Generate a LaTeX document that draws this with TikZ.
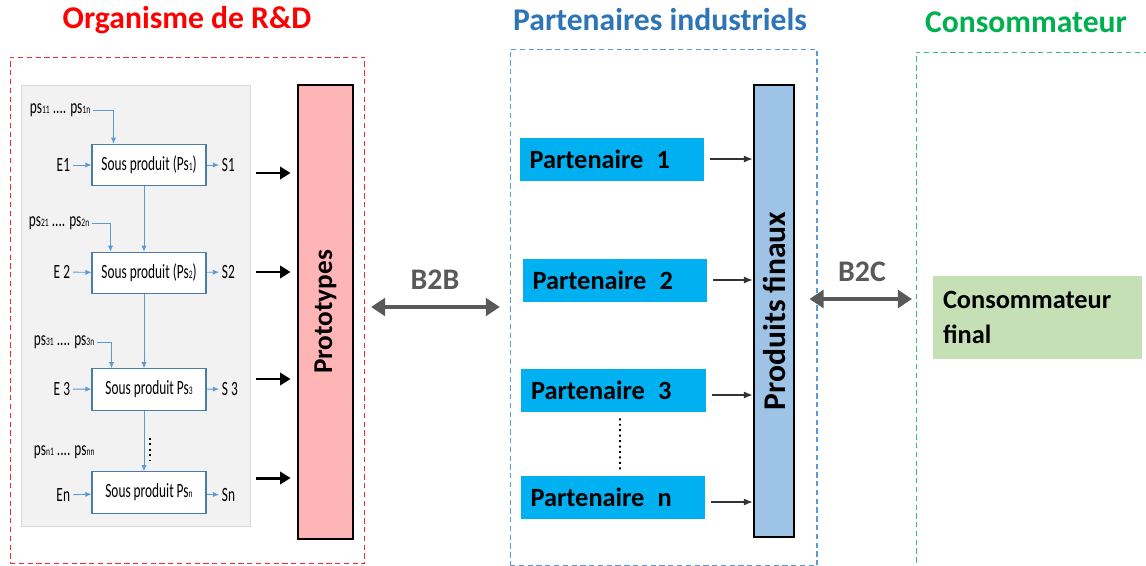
\documentclass[tikz,border=0pt]{standalone}
\usepackage{fontspec}
\setmainfont{Carlito}
\newfontfamily\etroit[FakeStretch=0.66]{Carlito}
\usetikzlibrary{positioning,arrows.meta,calc}
\definecolor{rougerd}{RGB}{255,40,40}
\definecolor{bleutitre}{RGB}{46,117,182}
\definecolor{vertconso}{RGB}{0,176,80}
\definecolor{bleufleche}{RGB}{91,155,213}
\definecolor{rosebox}{RGB}{255,181,181}
\definecolor{bleupf}{RGB}{157,195,230}
\definecolor{cyanpart}{RGB}{0,176,240}
\definecolor{vertclient}{RGB}{197,224,180}
\definecolor{grisfond}{RGB}{242,242,242}
\definecolor{grisfleche}{RGB}{89,89,89}
\newcommand\petit[1]{{\fontsize{6.5}{7}\selectfont #1}}

\begin{document}
\begin{tikzpicture}[x=0.02cm,y=-0.02cm,
    titre/.style={font=\fontsize{18}{21}\selectfont\bfseries},
    cadre/.style={draw,dashed,dash pattern=on 3pt off 2pt,line width=0.6pt},
    spbox/.style={draw=bleufleche!80!black,fill=white,line width=0.6pt,
      minimum width=2.28cm,minimum height=0.83cm,
      font=\etroit\fontsize{11.5}{13}\selectfont},
    lbl/.style={inner sep=1.5pt,font=\etroit\fontsize{11.5}{13}\selectfont},
    bleu/.style={draw=bleufleche,line width=0.5pt,-{Latex[length=3.5pt,width=3pt]}},
    noire/.style={line width=1.7pt,-{Triangle[length=6pt,width=7pt]},
      shorten <=0.12cm,shorten >=0.12cm},
    fine/.style={draw=black!80,line width=0.6pt,-{Latex[length=5pt,width=4pt]}},
    barre/.style={draw,line width=1.6pt},
    part/.style={fill=cyanpart,minimum height=0.86cm,text width=3.3cm,
      inner xsep=0.2cm,align=left,font=\fontsize{15}{18}\selectfont\bfseries},
    lettre/.style={font=\fontsize{15.5}{18}\selectfont\bfseries},
    bb/.style={line width=2.8pt,draw=grisfleche,
      {Triangle[length=8pt,width=10pt]}-{Triangle[length=8pt,width=10pt]}},
    bbtxt/.style={text=grisfleche,font=\fontsize{17}{20}\selectfont\bfseries}]
  \useasboundingbox (0,0) rectangle (1146,565);

  % titres
  \node[titre,text=red] (trd) at (187,20) {Organisme de R\&D};
  \node[titre,text=bleutitre] (tind) at (660,20) {Partenaires industriels};
  \node[titre,text=vertconso] (tcons) at (1026,22) {Consommateur};

  % cadres
  \node[cadre,draw=rougerd,minimum width=7.1cm,minimum height=10.14cm] (rd) at (187.5,310.5) {};
  \node[cadre,draw=bleufleche,minimum width=6.14cm,minimum height=10.34cm] (indus) at (663.5,307.5) {};
  \node[cadre,draw=vertconso!80,minimum width=4.88cm,minimum height=10.36cm] (cons) at (1038,311) {};

  % sous produits
  \node[fill=grisfond,draw=black!15,minimum width=4.58cm,minimum height=8.82cm] (sousprod) at (135.5,305.5) {};
  \node[spbox] (sp1) at (149,165) {Sous produit (Ps\petit{1})};
  \node[spbox] (sp2) at (149,273) {Sous produit (Ps\petit{2})};
  \node[spbox] (sp3) at (149,389.5) {Sous produit Ps\petit{3}};
  \node[spbox] (sp4) at (149,492.5) {Sous produit Ps\petit{n}};

  \node[lbl,anchor=east] (e1) at (73,165) {E1};
  \node[lbl,anchor=east] (e2) at (73,272) {E 2};
  \node[lbl,anchor=east] (e3) at (73,389) {E 3};
  \node[lbl,anchor=east] (e4) at (73,495) {En};
  \node[lbl,anchor=west] (s1) at (219,165) {S1};
  \node[lbl,anchor=west] (s2) at (219,272) {S2};
  \node[lbl,anchor=west] (s3) at (219,389) {S 3};
  \node[lbl,anchor=west] (s4) at (219,495) {Sn};
  \foreach \i in {1,...,4} {
    \draw[bleu] (e\i) -- (sp\i);
    \draw[bleu] (sp\i) -- (s\i);
  }

  \node[lbl,anchor=west] (ps1) at (27,110) {ps\petit{11} .... ps\petit{1n}};
  \node[lbl,anchor=west] (ps2) at (26,223) {ps\petit{21} .... ps\petit{2n}};
  \node[lbl,anchor=west] (ps3) at (31,342) {ps\petit{31} .... ps\petit{3n}};
  \node[lbl,anchor=west] (ps4) at (31,452) {ps\petit{n1} .... ps\petit{nn}};
  \draw[bleu] (ps1.east) -| ($(sp1.north west)+(22,0)$);
  \draw[bleu] (ps2.east) -| ($(sp2.north west)+(19,0)$);
  \draw[bleu] (ps3.east) -| ($(sp3.north west)+(20,0)$);

  \draw[bleu] ($(sp1.south)+(-5,0)$) -- ($(sp2.north)+(-5,0)$);
  \draw[bleu] ($(sp2.south)+(-5,0)$) -- ($(sp3.north)+(-5,0)$);
  \draw[bleu] ($(sp3.south)+(-5,0)$) -- ($(sp4.north)+(-5,0)$);
  \draw[dotted,line width=1.1pt] ($(sp3.south)+(1,27)$) -- ($(sp4.north)+(1,-7)$);

  % prototypes
  \node[barre,fill=rosebox,minimum width=1.1cm,minimum height=9.08cm] (proto) at (325.5,312) {};
  \node[lettre,rotate=90] (tproto) at (proto) {Prototypes};
  \foreach \y in {173,272,379,478}
    \draw[noire] (sousprod.east |- 0,\y) -- (proto.west |- 0,\y);

  % B2B
  \node[bbtxt] (b2b) at (435,280) {B2B};
  \draw[bb,shorten <=9.5pt,shorten >=5.5pt] (proto.east |- 0,307) -- (indus.west |- 0,307);

  % partenaires
  \node[part] (p1) at (612,159.5) {Partenaire\hspace{0.5em}1};
  \node[part] (p2) at (615,280.5) {Partenaire\hspace{0.5em}2};
  \node[part] (p3) at (613.5,390.5) {Partenaire\hspace{0.5em}3};
  \node[part] (pn) at (613,497.5) {Partenaire\hspace{0.5em}n};
  \draw[dotted,line width=1.1pt] ($(p3.south)+(6.5,6)$) -- ($(pn.north)+(7,-6)$);

  % produits finaux
  \node[barre,fill=bleupf,minimum width=0.8cm,minimum height=9.04cm] (pf) at (774,311) {};
  \node[font=\fontsize{18}{20}\selectfont\bfseries,rotate=90] (tpf) at (pf) {Produits finaux};
  \foreach \n/\y in {1/159,2/280,3/395,n/502}
    \draw[fine,shorten <=3pt] (p\n.east |- 0,\y) -- (pf.west |- 0,\y);

  % B2C
  \node[bbtxt] (b2c) at (862,272) {B2C};
  \draw[bb,shorten <=8pt,shorten >=2pt] (pf.east |- 0,299) -- (cons.west |- 0,299);

  % consommateur
  \node[fill=vertclient,minimum height=1.66cm,text width=3.78cm,inner xsep=0.2cm,
    align=left,font=\fontsize{15}{20}\selectfont\bfseries] (client) at (1037.5,317.5)
    {Consommateur\\final};
\end{tikzpicture}
\end{document}
